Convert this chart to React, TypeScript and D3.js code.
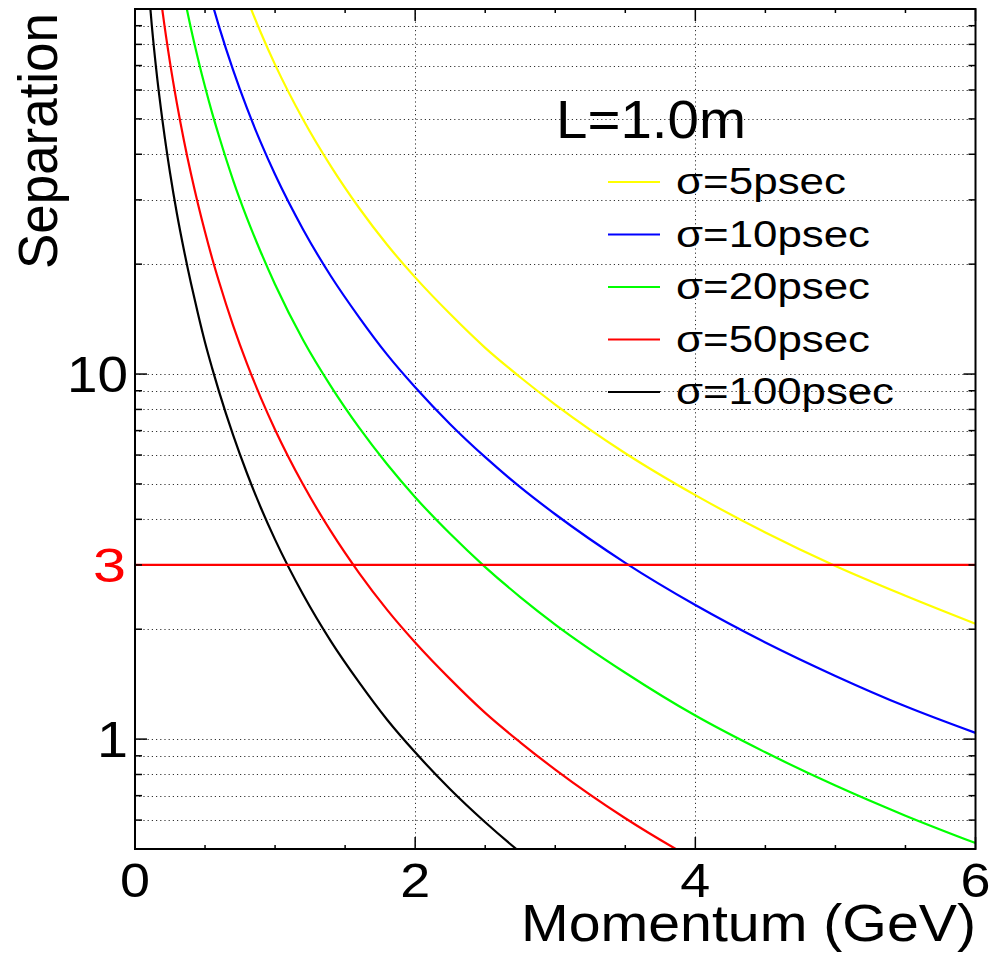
import React from 'react';
import * as d3 from 'd3';

// Momentum values (GeV) at which the separation curves were read
const momentum = [0.1, 0.12, 0.15, 0.2, 0.25, 0.3, 0.35, 0.4, 0.45, 0.5, 0.55, 0.6, 0.7, 0.8, 0.9, 1.0, 1.2, 1.4, 1.6, 1.8, 2.0, 2.25, 2.5, 2.75, 3.0, 3.5, 4.0, 4.5, 5.0, 5.5, 6.0];

// Separation (in sigma) for each time resolution
const sep5 = [2215, 1801, 1384, 963, 713, 549, 435, 353, 292, 245, 208, 179, 136, 106.7, 85.8, 70.4, 49.8, 37.0, 28.5, 22.6, 18.4, 14.6, 11.8, 9.8, 8.25, 6.07, 4.66, 3.68, 2.98, 2.47, 2.07];
const sep10 = [1108, 901, 692, 482, 356, 274, 218, 177, 146, 122, 104, 89.5, 68.1, 53.4, 42.9, 35.2, 24.9, 18.5, 14.3, 11.3, 9.2, 7.29, 5.92, 4.9, 4.13, 3.04, 2.33, 1.84, 1.49, 1.23, 1.04];
const sep20 = [554, 450, 346, 241, 178, 137, 109, 88.3, 73.0, 61.2, 52.0, 44.8, 34.0, 26.7, 21.5, 17.6, 12.4, 9.24, 7.13, 5.66, 4.6, 3.65, 2.96, 2.45, 2.06, 1.52, 1.16, 0.92, 0.746, 0.617, 0.519];
const sep50 = [221.5, 180.1, 138.4, 96.3, 71.3, 54.9, 43.5, 35.3, 29.2, 24.5, 20.8, 17.9, 13.6, 10.67, 8.58, 7.04, 4.98, 3.7, 2.85, 2.26, 1.84, 1.46, 1.18, 0.98, 0.825, 0.607, 0.466, 0.368, 0.298, 0.247, 0.207];
const sep100 = [110.8, 90.1, 69.2, 48.2, 35.6, 27.4, 21.8, 17.7, 14.6, 12.2, 10.4, 8.95, 6.81, 5.34, 4.29, 3.52, 2.49, 1.85, 1.43, 1.13, 0.92, 0.729, 0.592, 0.49, 0.413, 0.304, 0.233, 0.184, 0.149, 0.123, 0.104];

const seriesValues = [sep5, sep10, sep20, sep50, sep100];
const seriesLabels = ['σ=5psec', 'σ=10psec', 'σ=20psec', 'σ=50psec', 'σ=100psec'];
const seriesColors = ['#ffff00', '#0000ff', '#00ff00', '#ff0000', '#000000'];

const xTickLabels = [0, 2, 4, 6];
const yTickLabels = [1, 10];
const threshold = 3;
const legendTitle = 'L=1.0m';
const xTitle = 'Momentum (GeV)';
const yTitle = 'Separation';

const FONT = '"Liberation Sans", Arial, Helvetica, sans-serif';

export default function App() {
  const W = 993;
  const H = 969;
  const left = 135;
  const right = 975.5;
  const top = 9;
  const bottom = 849;

  const x = d3.scaleLinear().domain([0, 6]).range([left, right]);
  const y = d3.scaleLog().domain([0.5, 100]).range([bottom, top]);

  const line = d3
    .line<[number, number]>()
    .x((d) => x(d[0]))
    .y((d) => y(d[1]))
    .curve(d3.curveMonotoneX);

  const yTicks = y.ticks().filter((v) => v > 0.5 + 1e-9 && v < 100 - 1e-9);
  const isMajorY = (v: number) => Math.abs(Math.log10(v) - Math.round(Math.log10(v))) < 1e-9;
  const xTicks = d3.range(0, 6.001, 0.5);
  const xGrid = [2, 4];

  const legendX1 = 608;
  const legendX2 = 660;
  const legendTextX = 676;
  const legendY0 = 182;
  const legendStep = 52.5;
  const legendLengths = [170, 194, 194, 194, 218];

  return (
    <svg
      width={W}
      height={H}
      style={{ position: 'absolute', left: 0, top: 0, background: '#fff' }}
      fontFamily={FONT}
    >
      <defs>
        <clipPath id="plotclip">
          <rect x={left} y={top} width={right - left} height={bottom - top} />
        </clipPath>
      </defs>
      <rect x={0} y={0} width={W} height={H} fill="#fff" />

      {/* grid */}
      <g stroke="#333" strokeWidth={1} strokeDasharray="1.2,3">
        {yTicks.map((v) => (
          <line key={'gy' + v} x1={left} x2={right} y1={Math.round(y(v)) + 0.5} y2={Math.round(y(v)) + 0.5} />
        ))}
        {xGrid.map((v) => (
          <line key={'gx' + v} x1={Math.round(x(v)) + 0.5} x2={Math.round(x(v)) + 0.5} y1={top} y2={bottom} />
        ))}
      </g>

      {/* curves */}
      <g clipPath="url(#plotclip)" fill="none" strokeWidth={2.2}>
        {seriesValues.map((vals, i) => (
          <path
            key={'s' + i}
            d={line(momentum.map((p, j) => [p, vals[j]] as [number, number])) || ''}
            stroke={seriesColors[i]}
          />
        ))}
        <line x1={left} x2={right} y1={y(threshold)} y2={y(threshold)} stroke="#ff0000" strokeWidth={2.2} />
      </g>

      {/* ticks */}
      <g stroke="#000" strokeWidth={1.5}>
        {yTicks.map((v) => {
          const len = isMajorY(v) ? 12 : 7;
          const yy = y(v);
          return (
            <g key={'ty' + v}>
              <line x1={left} x2={left + len} y1={yy} y2={yy} />
              <line x1={right} x2={right - len} y1={yy} y2={yy} />
            </g>
          );
        })}
        {xTicks.map((v) => {
          const len = Math.abs(v % 2) < 1e-9 ? 12 : 4;
          const xx = x(v);
          return (
            <g key={'tx' + v}>
              <line x1={xx} x2={xx} y1={bottom} y2={bottom - len} />
              <line x1={xx} x2={xx} y1={top} y2={top + len} />
            </g>
          );
        })}
      </g>

      {/* frame */}
      <rect x={left} y={top} width={right - left} height={bottom - top} fill="none" stroke="#000" strokeWidth={2} />

      {/* tick labels */}
      {xTickLabels.map((v) => (
        <text
          key={'xl' + v}
          x={x(v)}
          y={897}
          fontSize={49}
          textAnchor="middle"
          textLength={30}
          lengthAdjust="spacingAndGlyphs"
          fill="#000"
        >
          {String(v)}
        </text>
      ))}
      {yTickLabels.map((v) => (
        <text
          key={'yl' + v}
          x={128}
          y={y(v) + 18}
          fontSize={50}
          textAnchor="end"
          textLength={v >= 10 ? 61 : 31}
          lengthAdjust="spacingAndGlyphs"
          fill="#000"
        >
          {String(v)}
        </text>
      ))}
      <text
        x={126}
        y={y(threshold) + 17}
        fontSize={48}
        textAnchor="end"
        textLength={33}
        lengthAdjust="spacingAndGlyphs"
        fill="#ff0000"
      >
        {String(threshold)}
      </text>

      {/* axis titles */}
      <text x={521} y={941} fontSize={52} textLength={455} lengthAdjust="spacingAndGlyphs" fill="#000">
        {xTitle}
      </text>
      <text
        transform="translate(57,13) rotate(-90)"
        fontSize={56}
        textAnchor="end"
        textLength={256}
        lengthAdjust="spacingAndGlyphs"
        fill="#000"
      >
        {yTitle}
      </text>

      {/* legend */}
      <text x={556} y={138} fontSize={53} textLength={190} lengthAdjust="spacingAndGlyphs" fill="#000">
        {legendTitle}
      </text>
      {seriesLabels.map((lab, i) => {
        const ly = legendY0 + i * legendStep;
        return (
          <g key={'lg' + i}>
            <line x1={legendX1} x2={legendX2} y1={ly} y2={ly} stroke={seriesColors[i]} strokeWidth={2} />
            <text
              x={legendTextX}
              y={ly + 12}
              fontSize={36}
              textLength={legendLengths[i]}
              lengthAdjust="spacingAndGlyphs"
              fill="#000"
            >
              {lab}
            </text>
          </g>
        );
      })}
    </svg>
  );
}
